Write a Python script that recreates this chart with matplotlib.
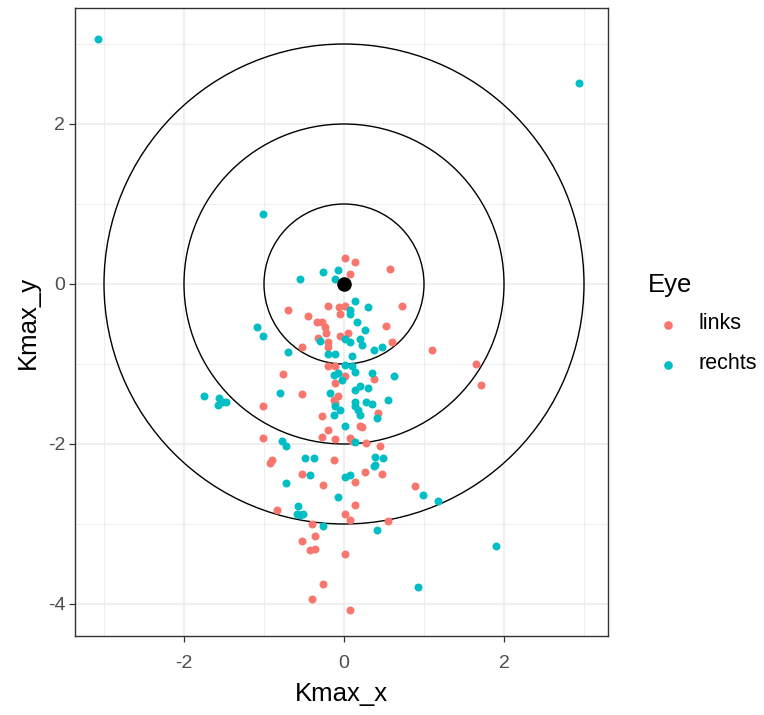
import matplotlib
matplotlib.use("Agg")
import matplotlib.pyplot as plt
from matplotlib.patches import Circle
from matplotlib.lines import Line2D
from matplotlib.ticker import MultipleLocator

plt.rcParams['font.family'] = ['Liberation Sans', 'DejaVu Sans']
plt.rcParams['axes.unicode_minus'] = False

# Punkte pro Auge
links_x = [0.01, 0.14, 0.575, 0.075, 0.72, -0.70, -0.20, -0.06, 0.01, -0.05,
           -0.45, -0.34, -0.28, -0.24, -0.22, 0.53, 0.05, -0.05, -0.32, -0.20,
           -0.20, 0.60, 1.10, -0.53, -0.20, -0.11, 0.01, -0.11, -0.76, 0.37,
           -0.53, -0.07, -0.13, -0.11, -1.01, 0.43, -0.28, 0.20, 0.22, -0.20,
           -0.28, -0.11, 0.075, 0.10, -1.01, 0.28, 0.45, -0.90, -0.92, -0.13,
           -0.53, 0.26, 0.47, -0.26, 0.14, 0.89, 0.14, -0.84, 0.01, 0.075,
           -0.40, 0.55, -0.36, -0.53, -0.425, -0.36, 0.01, -0.26, -0.40, 0.075,
           1.65, 1.71]
links_y = [0.33, 0.27, 0.19, 0.125, -0.275, -0.32, -0.275, -0.29, -0.275, -0.375,
           -0.40, -0.48, -0.47, -0.54, -0.61, -0.525, -0.61, -0.65, -0.67, -0.73,
           -0.79, -0.73, -0.82, -0.79, -1.03, -1.03, -1.15, -1.24, -1.13, -1.19,
           -1.38, -1.40, -1.45, -1.49, -1.53, -1.61, -1.65, -1.78, -1.79, -1.825,
           -1.91, -1.94, -1.92, -1.96, -1.93, -1.99, -2.03, -2.20, -2.24, -2.20,
           -2.37, -2.35, -2.375, -2.51, -2.47, -2.53, -2.76, -2.83, -2.87, -2.95,
           -3.00, -2.96, -3.15, -3.21, -3.33, -3.31, -3.375, -3.75, -3.94, -4.07,
           -1.00, -1.26]

rechts_x = [-1.01, -0.26, -0.07, -0.11, -0.55, 0.14, 0.30, 0.075, 0.075, 0.16,
            0.26, 0.01, 0.075, -0.30, 0.20, 0.22, 0.37, 0.47, -0.70, -1.09,
            -1.01, -0.20, -0.11, 0.10, 0.01, 0.10, 0.14, -0.13, -0.07, -0.03,
            0.35, 0.62, 0.14, 0.20, 0.30, -0.80, -0.175, -1.75, -1.56, -1.53,
            -1.475, -1.58, 0.55, 0.14, 0.14, 0.28, 0.35, -0.11, -0.05, -0.13,
            0.18, 0.20, 0.41, 0.01, 0.14, -0.78, -0.72, -0.49, -0.38, 0.39,
            0.49, 0.39, 0.37, -0.425, 0.01, 0.075, -0.72, 0.99, 1.18, -0.07,
            -0.57, -0.59, -0.51, -0.55, -0.26, 0.41, 0.93, 1.90, -3.075, 2.94]
rechts_y = [0.875, 0.15, 0.17, 0.06, 0.06, -0.21, -0.29, -0.33, -0.375, -0.48,
            -0.57, -0.69, -0.73, -0.71, -0.69, -0.76, -0.82, -0.79, -0.85, -0.54,
            -0.65, -0.875, -0.875, -0.90, -1.01, -1.03, -1.10, -1.14, -1.11, -1.20,
            -1.11, -1.15, -1.32, -1.28, -1.30, -1.36, -1.36, -1.40, -1.43, -1.47,
            -1.48, -1.51, -1.45, -1.47, -1.53, -1.48, -1.50, -1.525, -1.575, -1.64,
            -1.575, -1.64, -1.68, -1.78, -1.98, -1.96, -2.03, -2.18, -2.18, -2.16,
            -2.18, -2.26, -2.28, -2.39, -2.41, -2.39, -2.49, -2.64, -2.71, -2.66,
            -2.78, -2.88, -2.87, -2.89, -3.03, -3.08, -3.79, -3.27, 3.06, 2.51]

radien = [1, 2, 3]
eye_colors = {"links": "#F8766D", "rechts": "#00BFC4"}

W, H = 764, 715
fig = plt.figure(figsize=(W / 100, H / 100), dpi=100)
ax = fig.add_axes([75 / W, 1 - 636 / H, 533 / W, 628 / H])

# Gitter wie theme_bw
ax.xaxis.set_major_locator(MultipleLocator(2))
ax.yaxis.set_major_locator(MultipleLocator(2))
ax.xaxis.set_minor_locator(MultipleLocator(1))
ax.yaxis.set_minor_locator(MultipleLocator(1))
ax.grid(which="major", color="#EBEBEB", lw=1.1, zorder=0)
ax.grid(which="minor", color="#EBEBEB", lw=0.6, zorder=0)
ax.set_axisbelow(True)

for r in radien:
    ax.add_patch(Circle((0, 0), r, fill=False, ec="black", lw=1.0, zorder=2))

ax.scatter(links_x, links_y, s=33, color=eye_colors["links"], lw=0, zorder=3)
ax.scatter(rechts_x, rechts_y, s=33, color=eye_colors["rechts"], lw=0, zorder=3)
ax.scatter([0], [0], s=110, color="black", lw=0, zorder=4)

ax.set_xlim(-3.3625, 3.3)
ax.set_ylim(-4.4, 3.45)
ax.set_aspect("equal", adjustable="box")

for sp in ax.spines.values():
    sp.set_color("#333333")
    sp.set_linewidth(1.0)
ax.tick_params(which="major", length=4, width=0.9, color="#333333", labelsize=14,
               labelcolor="#4D4D4D")
ax.tick_params(axis="x", pad=10)
ax.tick_params(axis="y", pad=3)
ax.tick_params(which="minor", length=0)

ax.set_xlabel("Kmax_x", fontsize=18.5, labelpad=7)
ax.set_ylabel("Kmax_y", fontsize=18.5, labelpad=6)

# Legende von Hand gesetzt
fig.text(648 / W, 1 - 285 / H, "Eye", fontsize=18.5, ha="left", va="center")
for i, (name, col) in enumerate(eye_colors.items()):
    yk = 1 - (325 + 40 * i) / H
    fig.add_artist(Line2D([668 / W], [yk], transform=fig.transFigure, ls="",
                          marker="o", ms=6.2, mew=0, color=col))
    fig.text(699 / W, yk + 1.5 / H, name, fontsize=15.5, ha="left", va="center")

fig.savefig("out.png", dpi=100)
